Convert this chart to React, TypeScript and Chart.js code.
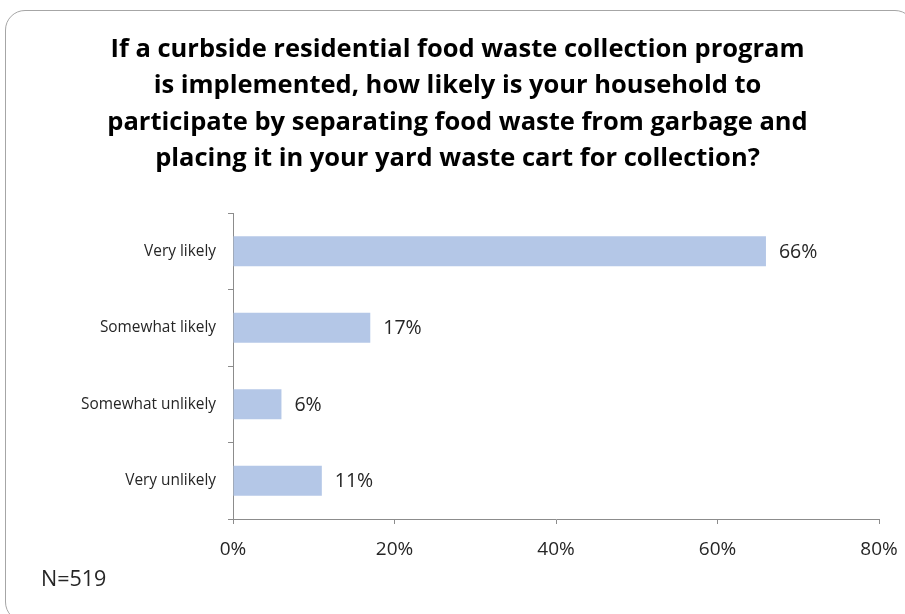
import React, { useEffect, useRef } from "react";
import { Chart, registerables } from "chart.js";

Chart.register(...registerables);

const categories = ["Very likely", "Somewhat likely", "Somewhat unlikely", "Very unlikely"];
const values = [66, 17, 6, 11];
const xTicks = [0, 20, 40, 60, 80];
const titleLines = [
  "If a curbside residential food waste collection program",
  "is implemented, how likely is your household to",
  "participate by separating food waste from garbage and",
  "placing it in your yard waste cart for collection?",
];
const sampleNote = "N=519";

const FONT = "'Open Sans', 'Noto Sans', sans-serif";
const TEXT = "#262626";
const AXIS = "#8c8c8c";

const valueLabels = {
  id: "valueLabels",
  afterDatasetsDraw(chart: any) {
    const ctx = chart.ctx;
    const meta = chart.getDatasetMeta(0);
    ctx.save();
    ctx.font = `19.5px ${FONT}`;
    ctx.fillStyle = TEXT;
    ctx.textAlign = "left";
    ctx.textBaseline = "middle";
    meta.data.forEach((bar: any, i: number) => {
      ctx.fillText(`${chart.data.datasets[0].data[i]}%`, bar.x + 13, bar.y + 1);
    });
    ctx.restore();
  },
};

const noteLabel = {
  id: "noteLabel",
  afterDraw(chart: any) {
    const ctx = chart.ctx;
    ctx.save();
    ctx.font = `21.5px ${FONT}`;
    ctx.fillStyle = TEXT;
    ctx.textAlign = "left";
    ctx.textBaseline = "alphabetic";
    ctx.fillText(sampleNote, 41, 586);
    ctx.restore();
  },
};

export default function App() {
  const ref = useRef<HTMLCanvasElement | null>(null);
  useEffect(() => {
    if (!ref.current) return;
    const chart = new Chart(ref.current, {
      type: "bar",
      data: {
        labels: categories,
        datasets: [
          {
            data: values,
            backgroundColor: "#B4C7E7",
            borderWidth: 0,
            barPercentage: 0.39,
            categoryPercentage: 1,
          },
        ],
      },
      options: {
        indexAxis: "y",
        animation: false,
        responsive: false,
        layout: { padding: { left: 36, right: 26, top: 0, bottom: 0 } },
        plugins: {
          legend: { display: false },
          tooltip: { enabled: false },
          title: {
            display: true,
            text: titleLines,
            color: "#000000",
            font: { family: FONT, size: 25.5, weight: "bold", lineHeight: "36.5px" },
            padding: { top: 31, bottom: 36 },
          },
        },
        scales: {
          x: {
            min: 0,
            max: 80,
            afterFit(scale: any) {
              scale.height = 95;
              scale.paddingLeft = 0;
              scale.paddingRight = 0;
            },
            afterBuildTicks(scale: any) {
              scale.ticks = xTicks.map((v) => ({ value: v }));
            },
            ticks: {
              callback: (v: any) => `${v}%`,
              color: TEXT,
              font: { family: FONT, size: 19 },
              padding: 14,
              maxRotation: 0,
            },
            grid: {
              drawOnChartArea: false,
              drawTicks: true,
              tickLength: 5,
              color: AXIS,
            },
            border: { color: AXIS },
          },
          y: {
            afterFit(scale: any) {
              scale.width = 197;
              scale.paddingTop = 0;
              scale.paddingBottom = 0;
            },
            ticks: {
              color: TEXT,
              font: { family: FONT, size: 15.4 },
              padding: 12,
            },
            grid: {
              drawOnChartArea: false,
              drawTicks: true,
              tickLength: 5,
              color: AXIS,
            },
            border: { color: AXIS },
          },
        },
      },
      plugins: [valueLabels, noteLabel],
    });
    return () => chart.destroy();
  }, []);

  return (
    <div style={{ position: "fixed", left: 0, top: 0, width: 905, height: 614, background: "#fff", overflow: "hidden" }}>
      <div
        style={{
          position: "absolute",
          left: 5,
          top: 10,
          width: 910,
          height: 612,
          border: "1px solid #a6a6a6",
          borderRadius: 20,
          boxSizing: "border-box",
        }}
      />
      <canvas ref={ref} width={905} height={614} style={{ position: "absolute", left: 0, top: 0 }} />
    </div>
  );
}
